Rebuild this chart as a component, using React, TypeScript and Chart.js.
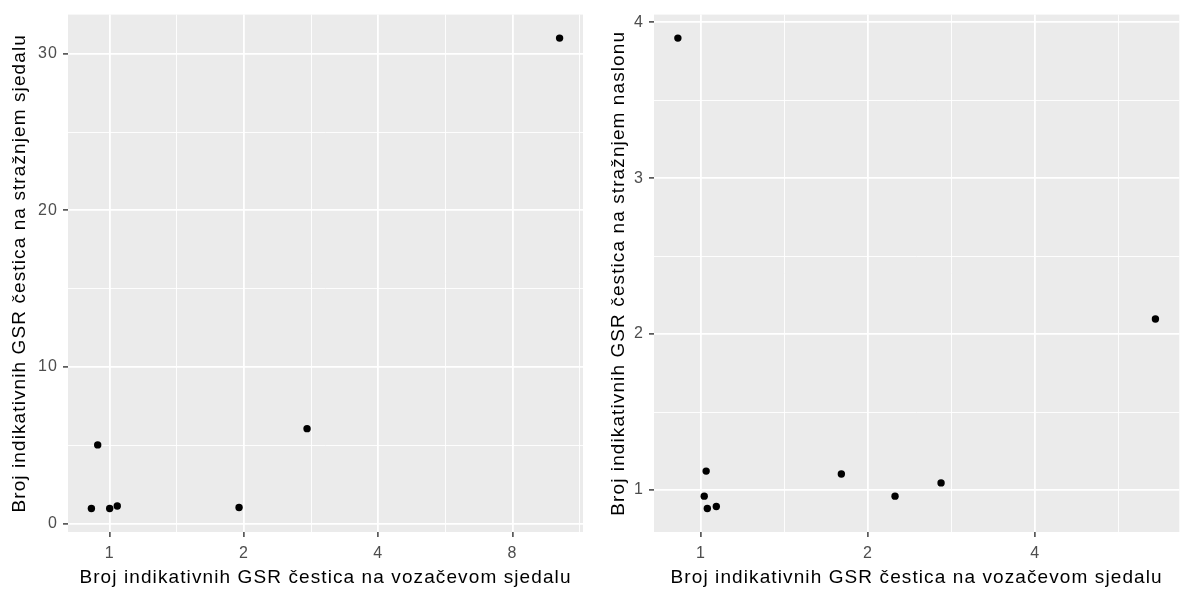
import { useEffect, useRef } from 'react';
import { Chart, registerables } from 'chart.js';

Chart.register(...registerables);

// ---- Text ----
const X_TITLE = 'Broj indikativnih GSR čestica na vozačevom sjedalu';
const LEFT_Y_TITLE = 'Broj indikativnih GSR čestica na stražnjem sjedalu';
const RIGHT_Y_TITLE = 'Broj indikativnih GSR čestica na stražnjem naslonu';

// ---- Data (left panel) ----
const LEFT_X = [10.2, 0.94, 0.91, 1.0, 1.04, 1.95, 2.77];
const LEFT_Y = [31.0, 5.02, 0.96, 0.96, 1.12, 1.02, 6.06];

// ---- Data (right panel) ----
const RIGHT_X = [0.909, 1.022, 1.014, 1.027, 1.066, 1.79, 2.236, 2.706, 6.58];
const RIGHT_Y = [3.899, 1.121, 0.96, 0.881, 0.894, 1.102, 0.96, 1.045, 2.097];

// ---- Ticks ----
const X_MAJOR_TICKS = [1, 2, 4, 8];
const X_MINOR_TICKS = [0.7071, 1.4142, 2.8284, 5.6569, 11.3137];
const LEFT_Y_MAJOR_TICKS = [0, 10, 20, 30];
const LEFT_Y_MINOR_TICKS = [-5, 5, 15, 25, 35];
const RIGHT_Y_MAJOR_TICKS = [1, 2, 3, 4];
const RIGHT_Y_MINOR_TICKS = [0.5, 1.5, 2.5, 3.5, 4.5];

const FONT = '"Liberation Sans", Arial, Helvetica, sans-serif';
const LETTER_SPACING = '1.1px';

function logLimits(v: number[]): [number, number] {
  const l = v.map(Math.log2);
  const lo = Math.min(...l);
  const hi = Math.max(...l);
  const e = (hi - lo) * 0.05;
  return [2 ** (lo - e), 2 ** (hi + e)];
}
function linLimits(v: number[]): [number, number] {
  const lo = Math.min(...v);
  const hi = Math.max(...v);
  const e = (hi - lo) * 0.05;
  return [lo - e, hi + e];
}

const near = (arr: number[], v: number) => arr.some((m) => Math.abs(m - v) < 1e-6);

function axisOpts(
  type: 'logarithmic' | 'linear',
  lim: [number, number],
  major: number[],
  minor: number[],
  title: string,
  isY: boolean,
  size: number,
  titlePad: any,
  tickPad: number,
) {
  const all = [...major, ...minor].sort((a, b) => a - b);
  return {
    type,
    min: lim[0],
    max: lim[1],
    afterBuildTicks: (s: any) => {
      s.ticks = all.filter((v) => v >= lim[0] && v <= lim[1]).map((v) => ({ value: v }));
    },
    afterFit: (s: any) => {
      if (isY) s.width = size;
      else s.height = size;
    },
    border: { display: false },
    grid: {
      color: '#FFFFFF',
      lineWidth: (c: any) => (c.tick && near(major, c.tick.value) ? 1.8 : 0.9),
      drawTicks: true,
      tickLength: 5,
      tickWidth: 1.4,
      tickColor: (c: any) => (c.tick && near(major, c.tick.value) ? '#333333' : 'rgba(0,0,0,0)'),
    },
    ticks: {
      autoSkip: false,
      maxRotation: 0,
      minRotation: 0,
      color: '#4D4D4D',
      padding: tickPad,
      font: { family: FONT, size: 16 },
      callback: (v: any) => (near(major, Number(v)) ? String(v) : ''),
    },
    title: {
      display: true,
      text: title,
      color: '#000000',
      font: { family: FONT, size: 19 },
      padding: titlePad,
    },
  };
}

const bgPlugin = {
  id: 'panelBg',
  beforeLayout(chart: any) {
    chart.ctx.letterSpacing = LETTER_SPACING;
  },
  beforeDraw(chart: any) {
    const { ctx, chartArea, width, height } = chart;
    ctx.letterSpacing = LETTER_SPACING;
    ctx.save();
    ctx.fillStyle = '#FFFFFF';
    ctx.fillRect(0, 0, width, height);
    ctx.fillStyle = '#EBEBEB';
    ctx.fillRect(chartArea.left, chartArea.top, chartArea.right - chartArea.left, chartArea.bottom - chartArea.top);
    ctx.restore();
  },
};

type PanelProps = {
  xs: number[];
  ys: number[];
  yTitle: string;
  yMajor: number[];
  yMinor: number[];
  left: number;
  width: number;
  yAxisWidth: number;
  rightPad: number;
  yTitlePad: number;
};

function Panel(p: PanelProps) {
  const ref = useRef<HTMLCanvasElement | null>(null);
  useEffect(() => {
    if (!ref.current) return;
    const chart = new Chart(ref.current, {
      type: 'scatter',
      data: {
        datasets: [
          {
            data: p.xs.map((x, i) => ({ x, y: p.ys[i] })),
            backgroundColor: '#000000',
            borderWidth: 0,
            pointRadius: 3.7,
            pointHoverRadius: 3.7,
          },
        ],
      },
      options: {
        responsive: false,
        animation: false,
        layout: { padding: { left: 0, right: p.rightPad, top: 12, bottom: 0 } },
        plugins: { legend: { display: false }, tooltip: { enabled: false } },
        scales: {
          x: axisOpts(
            'logarithmic',
            logLimits(p.xs),
            X_MAJOR_TICKS,
            X_MINOR_TICKS,
            X_TITLE,
            false,
            58,
            { top: 0, bottom: 1 },
            7,
          ) as any,
          y: axisOpts(
            'linear',
            linLimits(p.ys),
            p.yMajor,
            p.yMinor,
            p.yTitle,
            true,
            p.yAxisWidth,
            { top: p.yTitlePad, bottom: 0 },
            5,
          ) as any,
        },
      },
      plugins: [bgPlugin],
    });
    return () => chart.destroy();
  }, []);
  return (
    <canvas
      ref={ref}
      width={p.width}
      height={590}
      style={{ position: 'absolute', left: p.left, top: 0, width: p.width, height: 590 }}
    />
  );
}

export default function App() {
  return (
    <div
      style={{
        position: 'absolute',
        left: 0,
        top: 0,
        width: 1183,
        height: 590,
        background: '#FFFFFF',
        overflow: 'hidden',
      }}
    >
      <Panel
        xs={LEFT_X}
        ys={LEFT_Y}
        yTitle={LEFT_Y_TITLE}
        yMajor={LEFT_Y_MAJOR_TICKS}
        yMinor={LEFT_Y_MINOR_TICKS}
        left={0}
        width={591}
        yAxisWidth={68}
        rightPad={8}
        yTitlePad={8}
      />
      <Panel
        xs={RIGHT_X}
        ys={RIGHT_Y}
        yTitle={RIGHT_Y_TITLE}
        yMajor={RIGHT_Y_MAJOR_TICKS}
        yMinor={RIGHT_Y_MINOR_TICKS}
        left={591}
        width={592}
        yAxisWidth={63}
        rightPad={1.5}
        yTitlePad={16}
      />
    </div>
  );
}
